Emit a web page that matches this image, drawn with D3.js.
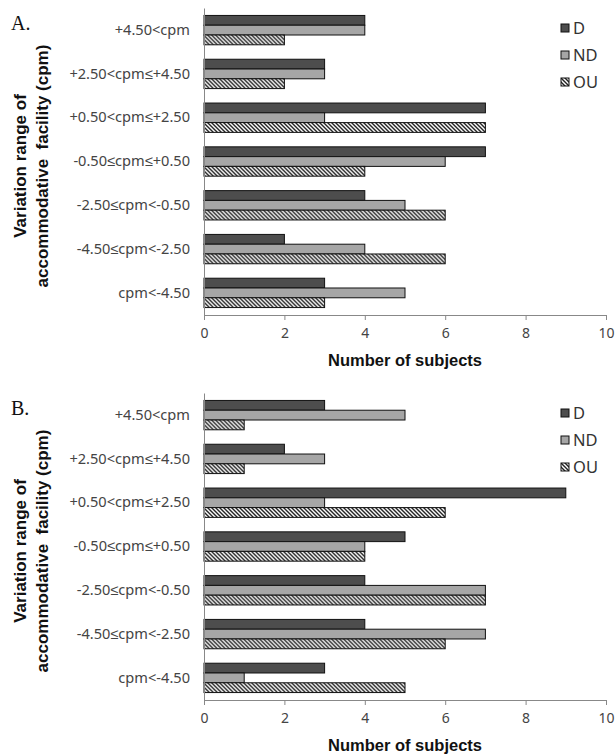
<!DOCTYPE html>
<html>
<head>
<meta charset="utf-8">
<script src="https://cdn.jsdelivr.net/npm/d3@7"></script>
<style>
  body { margin: 0; background: #fff; }
  svg { display: block; }
</style>
</head>
<body>
<svg id="drawing_region"></svg>
<script>
// categories top to bottom
const categories = ["+4.50<cpm", "+2.50<cpm≤+4.50", "+0.50<cpm≤+2.50", "-0.50≤cpm≤+0.50",
                    "-2.50≤cpm<-0.50", "-4.50≤cpm<-2.50", "cpm<-4.50"];
const series = ["D", "ND", "OU"];
const xTicks = [0, 2, 4, 6, 8, 10];

// panel A
const aD  = [4, 3, 7, 7, 4, 2, 3];
const aND = [4, 3, 3, 6, 5, 4, 5];
const aOU = [2, 2, 7, 4, 6, 6, 3];

// panel B
const bD  = [3, 2, 9, 5, 4, 4, 3];
const bND = [5, 3, 3, 4, 7, 7, 1];
const bOU = [1, 1, 6, 4, 7, 6, 5];

const W = 615, H = 754;
const svg = d3.select("#drawing_region").attr("width", W).attr("height", H);

// hatch for OU
const defs = svg.append("defs");
const pat = defs.append("pattern")
    .attr("id", "hatch")
    .attr("patternUnits", "userSpaceOnUse")
    .attr("width", 4).attr("height", 4);
pat.append("rect").attr("width", 4).attr("height", 4).attr("fill", "#fff");
pat.append("path")
    .attr("d", "M-1,-1 L5,5 M-1,3 L1,5 M3,-1 L5,1")
    .attr("stroke", "#222").attr("stroke-width", 1.4);

const fills = { D: "#4d4d4d", ND: "#a6a6a6", OU: "url(#hatch)" };

const xscale = d3.scaleLinear().domain([0, 10]).range([204, 606]);
const yscale = d3.scaleBand().domain(categories).range([8, 315])
    .paddingInner(0.33).paddingOuter(0.17);
const sscale = d3.scaleBand().domain(series).range([0, yscale.bandwidth()]);

function drawPanel(offset, label, D, ND, OU) {
    const g = svg.append("g").attr("transform", `translate(0, ${offset})`);
    const rows = categories.map((c, i) => ({ cat: c, D: D[i], ND: ND[i], OU: OU[i] }));

    // bars
    const grp = g.selectAll(".grp").data(rows).enter().append("g")
        .attr("transform", d => `translate(0, ${yscale(d.cat)})`);
    grp.selectAll("rect")
        .data(d => series.map(s => ({ s: s, v: d[s] })))
        .enter().append("rect")
        .attr("x", xscale(0))
        .attr("y", d => sscale(d.s))
        .attr("width", d => xscale(d.v) - xscale(0))
        .attr("height", sscale.bandwidth())
        .attr("fill", d => fills[d.s])
        .attr("stroke", "#111")
        .attr("stroke-width", 1);

    // x axis
    const xaxis = d3.axisBottom(xscale).tickValues(xTicks).tickSize(5).tickSizeOuter(0).tickPadding(8);
    const xg = g.append("g").attr("transform", `translate(0, 315)`).call(xaxis);
    xg.select(".domain").attr("stroke", "#888");
    xg.selectAll(".tick line").attr("stroke", "#888");
    xg.selectAll("text").attr("font-family", "'Noto Sans', sans-serif")
        .attr("font-size", "14px").attr("fill", "#444");

    // y axis
    const yaxis = d3.axisLeft(yscale).tickSize(0).tickPadding(14).tickSizeOuter(0);
    const yg = g.append("g").attr("transform", `translate(${xscale(0)}, 0)`).call(yaxis);
    yg.select(".domain").attr("stroke", "#888");
    yg.selectAll("text").attr("font-family", "'Noto Sans', sans-serif")
        .attr("font-size", "14.6px").attr("fill", "#444");

    // axis titles
    g.append("text")
        .text("Number of subjects")
        .attr("x", 405).attr("y", 366)
        .attr("text-anchor", "middle")
        .attr("font-family", "'Liberation Sans', Arial, sans-serif")
        .attr("font-weight", "bold").attr("font-size", "16.5px").attr("fill", "#111");

    const yt = g.append("text")
        .attr("transform", "translate(0, 166) rotate(-90)")
        .attr("text-anchor", "middle")
        .attr("font-family", "'Liberation Sans', Arial, sans-serif")
        .attr("font-weight", "bold").attr("font-size", "17px").attr("fill", "#111");
    yt.append("tspan").attr("x", 0).attr("y", 26).text("Variation range of");
    yt.append("tspan").attr("x", 0).attr("y", 48).attr("xml:space", "preserve").text("accommodative  facility (cpm)");

    // panel label
    g.append("text")
        .text(label)
        .attr("x", 11).attr("y", 30)
        .attr("font-family", "'Liberation Serif', 'Times New Roman', serif")
        .attr("font-size", "20px").attr("fill", "#111");

    // legend
    const lg = g.selectAll(".leg").data(series).enter().append("g")
        .attr("transform", (d, i) => `translate(561, ${28 + i * 27})`);
    lg.append("rect")
        .attr("x", 0).attr("y", -4).attr("width", 8).attr("height", 8)
        .attr("fill", d => fills[d]).attr("stroke", "#111");
    lg.append("text")
        .text(d => d)
        .attr("x", 12).attr("y", 6)
        .attr("font-family", "'Noto Sans', sans-serif")
        .attr("font-size", "16.5px").attr("fill", "#333");
}

drawPanel(0, "A.", aD, aND, aOU);
drawPanel(385, "B.", bD, bND, bOU);
</script>
</body>
</html>
